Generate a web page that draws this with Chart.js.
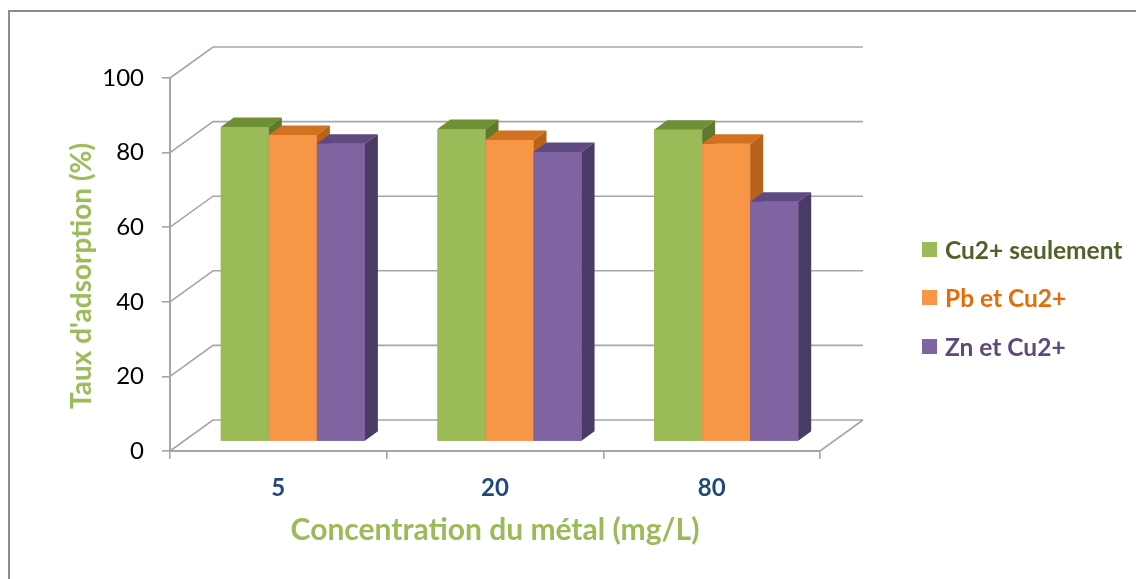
<!DOCTYPE html>
<html><head><meta charset="utf-8">
<script src="https://cdn.jsdelivr.net/npm/chart.js@4/dist/chart.umd.min.js"></script>
<style>
html,body{margin:0;padding:0;background:#fff;overflow:hidden;}
#wrap{position:relative;width:1136px;height:579px;overflow:hidden;}
#frame{position:absolute;left:8px;top:10px;width:1300px;height:800px;border:2px solid #8c8c8c;box-sizing:border-box;}
canvas{position:absolute;left:0;top:0;}
#legend{position:absolute;left:0;top:0;font-family:Lato,"Open Sans",sans-serif;font-weight:bold;font-size:24.5px;}
.item{position:absolute;left:922px;white-space:nowrap;display:flex;align-items:center;height:30px;}
.sw{width:15px;height:15px;margin-right:8px;flex:none;}
#ytitle{position:absolute;left:80px;top:276px;transform:translate(-50%,-50%) rotate(-90deg);white-space:nowrap;
  font-family:Lato,"Open Sans",sans-serif;font-weight:bold;font-size:28px;color:#9bbb59;line-height:1;}
</style></head>
<body><div id="wrap"><div id="frame"></div><canvas id="c" width="1136" height="579"></canvas><div id="legend"></div><div id="ytitle"></div></div>
<script>
// ---- data ----
const categories = ['5', '20', '80'];
const seriesNames = ['Cu2+ seulement', 'Pb et Cu2+', 'Zn et Cu2+'];
const cuOnly = [84.3, 83.8, 83.6];
const pbCu = [82.2, 80.8, 79.8];
const znCu = [79.8, 77.6, 64.3];
const yTicks = [0, 20, 40, 60, 80, 100];
const xTitle = 'Concentration du métal (mg/L)';
const yTitle = "Taux d'adsorption (%)";

// ---- styles ----
const frontColors = ['#9bbb59', '#f79646', '#8064a2'];
const topColors = ['#6f8f35', '#d2711f', '#5e4a80'];
const sideColors = ['#5f7a2c', '#b8621a', '#4a3a66'];
const legendTextColors = ['#4f6228', '#e46c0a', '#5f497a'];
const legendY = [249, 297, 346];
const WALL = {dx: 43, dy: -31};
const SHIFT = {dx: 14.5, dy: -9.5};
const BDEPTH = {dx: 13, dy: -9.5};
const FONT = 'Lato';

const threeD = {
  id: 'threeD',
  beforeDatasetsDraw(chart) {
    const {ctx, chartArea: a, scales: {y}} = chart;
    ctx.save();
    ctx.strokeStyle = '#a6a6a6';
    ctx.lineWidth = 1.6;
    yTicks.forEach(v => {
      const py = y.getPixelForValue(v);
      ctx.beginPath();
      ctx.moveTo(a.left, py);
      ctx.lineTo(a.left + WALL.dx, py + WALL.dy);
      ctx.lineTo(a.right + WALL.dx, py + WALL.dy);
      ctx.stroke();
    });
    const p0 = y.getPixelForValue(0);
    ctx.beginPath();
    ctx.moveTo(a.right, p0);
    ctx.lineTo(a.right + WALL.dx, p0 + WALL.dy);
    ctx.stroke();
    ctx.restore();
    // bars sit in the middle of the depth
    ctx.save();
    ctx.translate(SHIFT.dx, SHIFT.dy);
  },
  afterDatasetsDraw(chart) {
    const ctx = chart.ctx;
    // redraw left-to-right so each bar hides its left neighbour's side face
    chart.data.datasets.forEach((ds, i) => {
      const meta = chart.getDatasetMeta(i);
      meta.data.forEach(bar => {
        bar.draw(ctx);
        const {x, y, base, width} = bar.getProps(['x', 'y', 'base', 'width'], true);
        const l = x - width / 2, r = x + width / 2;
        ctx.fillStyle = topColors[i];
        ctx.beginPath();
        ctx.moveTo(l, y); ctx.lineTo(l + BDEPTH.dx, y + BDEPTH.dy);
        ctx.lineTo(r + BDEPTH.dx, y + BDEPTH.dy); ctx.lineTo(r, y);
        ctx.closePath(); ctx.fill();
        ctx.fillStyle = sideColors[i];
        ctx.beginPath();
        ctx.moveTo(r, y); ctx.lineTo(r + BDEPTH.dx, y + BDEPTH.dy);
        ctx.lineTo(r + BDEPTH.dx, base + BDEPTH.dy); ctx.lineTo(r, base);
        ctx.closePath(); ctx.fill();
      });
    });
    ctx.restore();
  }
};

const values = [cuOnly, pbCu, znCu];
const datasets = values.map((d, i) => ({
  label: seriesNames[i],
  data: d,
  backgroundColor: frontColors[i],
  borderWidth: 0,
  categoryPercentage: 0.665,
  barPercentage: 1.0
}));

new Chart(document.getElementById('c'), {
  type: 'bar',
  data: {labels: categories, datasets},
  plugins: [threeD],
  options: {
    responsive: false,
    animation: false,
    layout: {padding: {left: 0, top: 78, right: 316, bottom: 0}},
    plugins: {legend: {display: false}, tooltip: {enabled: false}},
    scales: {
      x: {
        afterFit(s) { s.height = 128; },
        grid: {drawOnChartArea: false, drawTicks: true, tickLength: 8, color: '#a6a6a6', lineWidth: 1.6, offset: true},
        border: {display: true, color: '#a6a6a6', width: 2},
        ticks: {color: '#1f497d', font: {family: FONT, size: 24, weight: 'bold'}, padding: 15},
        title: {display: true, text: xTitle, color: '#9bbb59',
                font: {family: FONT, size: 30, weight: 'bold'}, padding: {top: 0, bottom: 31}}
      },
      y: {
        min: 0, max: 100,
        afterFit(s) { s.width = 170; },
        afterBuildTicks(s) { s.ticks = yTicks.map(v => ({value: v})); },
        grid: {drawOnChartArea: false, drawTicks: true, tickLength: 8, color: '#a6a6a6', lineWidth: 1.6},
        border: {display: true, color: '#a6a6a6', width: 2},
        ticks: {color: '#000', font: {family: FONT, size: 24}, padding: 18},
        title: {display: false}
      }
    }
  }
});

document.getElementById('ytitle').textContent = yTitle;
const lg = document.getElementById('legend');
seriesNames.forEach((n, i) => {
  const it = document.createElement('div');
  it.className = 'item';
  it.style.top = (legendY[i] - 15) + 'px';
  it.innerHTML = '<span class="sw" style="background:' + frontColors[i] + '"></span><span style="color:' + legendTextColors[i] + '">' + n + '</span>';
  lg.appendChild(it);
});
</script>
</body></html>
